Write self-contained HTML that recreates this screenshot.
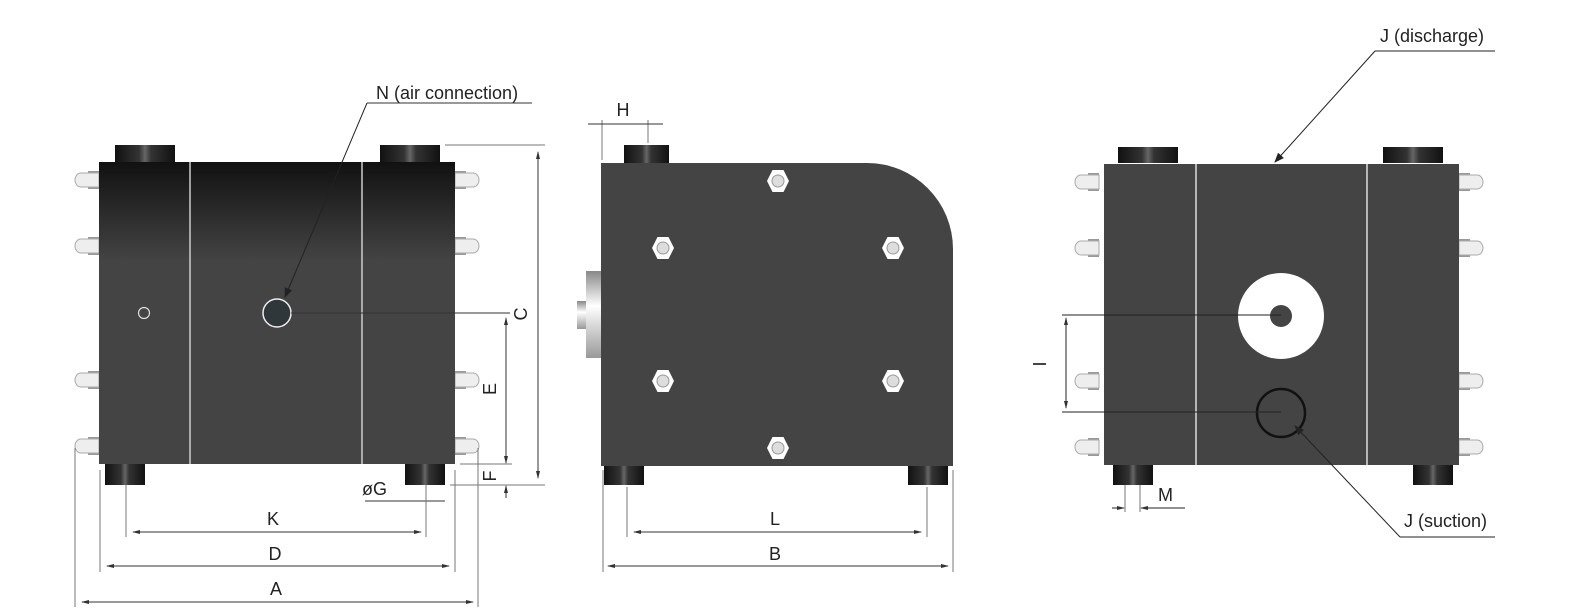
<!DOCTYPE html>
<html><head><style>body{margin:0;background:#fff}svg{display:block}text{font-family:"Liberation Sans",sans-serif;font-size:18px;fill:#222}</style></head><body>
<svg width="1576" height="615" viewBox="0 0 1576 615" xmlns="http://www.w3.org/2000/svg">
<defs>
<linearGradient id="top" x1="0" y1="0" x2="0" y2="1"><stop offset="0" stop-color="#111"/><stop offset="0.33" stop-color="#444"/><stop offset="1" stop-color="#444"/></linearGradient>
<linearGradient id="cyl" x1="0" y1="0" x2="1" y2="0"><stop offset="0" stop-color="#111"/><stop offset="0.4" stop-color="#333"/><stop offset="0.5" stop-color="#666"/><stop offset="0.6" stop-color="#333"/><stop offset="1" stop-color="#111"/></linearGradient>
<linearGradient id="spig" x1="0" y1="0" x2="0" y2="1"><stop offset="0" stop-color="#888"/><stop offset="0.4" stop-color="#fff"/><stop offset="1" stop-color="#999"/></linearGradient>
<g id="boltL"><rect x="13" y="-9" width="11" height="18" fill="#999"/><path d="M24,-7 H6 A6,7 0 0 0 6,7 H24Z" fill="#eee" stroke="#aaa"/></g>
<g id="boltR"><rect x="0" y="-9" width="11" height="18" fill="#999"/><path d="M0,-7 H18 A6,7 0 0 1 18,7 H0Z" fill="#eee" stroke="#aaa"/></g>
<g id="nut"><polygon points="-11,0 -5.5,-11 5.5,-11 11,0 5.5,11 -5.5,11" fill="#fff"/><circle r="6" fill="#ddd" stroke="#999"/></g>
<marker id="ar" markerWidth="10" markerHeight="8" refX="9" refY="4" orient="auto" markerUnits="userSpaceOnUse"><path d="M0,0 L10,4 L0,8Z" fill="#222"/></marker>
<marker id="sa" markerWidth="8" markerHeight="6" refX="7" refY="3" orient="auto-start-reverse" markerUnits="userSpaceOnUse"><path d="M0,1 L8,3 L0,5Z" fill="#333"/></marker>
</defs>
<!-- VIEW 1 -->
<rect x="115" y="145" width="60" height="18" fill="url(#cyl)"/>
<rect x="380" y="145" width="60" height="18" fill="url(#cyl)"/>
<rect x="105" y="464" width="40" height="21" fill="url(#cyl)"/>
<rect x="405" y="464" width="40" height="21" fill="url(#cyl)"/>
<use href="#boltL" x="75" y="180"/><use href="#boltL" x="75" y="246"/><use href="#boltL" x="75" y="380"/><use href="#boltL" x="75" y="446"/>
<use href="#boltR" x="455" y="180"/><use href="#boltR" x="455" y="246"/><use href="#boltR" x="455" y="380"/><use href="#boltR" x="455" y="446"/>
<rect x="99" y="162" width="356" height="302" fill="url(#top)"/>
<line x1="190" y1="162" x2="190" y2="464" stroke="#ccc" stroke-width="1.5"/>
<line x1="362" y1="162" x2="362" y2="464" stroke="#ccc" stroke-width="1.5"/>
<circle cx="144" cy="313" r="5.5" fill="none" stroke="#ddd" stroke-width="1.2"/>
<circle cx="277" cy="313" r="14" fill="#30373a" stroke="#eee" stroke-width="1.5"/>
<g stroke="#333" stroke-width="1" fill="none">
<line x1="291" y1="313" x2="510" y2="313"/>
<line x1="367" y1="103" x2="285" y2="297" stroke="#222" marker-end="url(#ar)"/>
<line x1="367" y1="103" x2="532" y2="103"/>
<line x1="445" y1="145" x2="545" y2="145" stroke="#777"/>
<line x1="450" y1="485" x2="545" y2="485" stroke="#777"/>
<line x1="538" y1="152" x2="538" y2="478" marker-start="url(#sa)" marker-end="url(#sa)"/>
<line x1="460" y1="464" x2="512" y2="464" stroke="#777"/>
<line x1="506" y1="318" x2="506" y2="463" marker-start="url(#sa)" marker-end="url(#sa)"/>
<line x1="506" y1="486" x2="506" y2="498" marker-start="url(#sa)"/>
<line x1="365" y1="501" x2="445" y2="501"/>
<line x1="126" y1="485" x2="126" y2="537" stroke="#777"/><line x1="426" y1="485" x2="426" y2="537" stroke="#777"/>
<line x1="133" y1="532" x2="421" y2="532" marker-start="url(#sa)" marker-end="url(#sa)"/>
<line x1="100" y1="470" x2="100" y2="572" stroke="#777"/><line x1="455" y1="470" x2="455" y2="572" stroke="#777"/>
<line x1="107" y1="566" x2="449" y2="566" marker-start="url(#sa)" marker-end="url(#sa)"/>
<line x1="75" y1="448" x2="75" y2="607" stroke="#777"/><line x1="478" y1="448" x2="478" y2="607" stroke="#777"/>
<line x1="82" y1="602" x2="473" y2="602" marker-start="url(#sa)" marker-end="url(#sa)"/>
</g>
<text x="376" y="99">N (air connection)</text>
<text x="520" y="307" transform="rotate(-90 527 307)" text-anchor="middle">C</text>
<text x="490" y="383" transform="rotate(-90 496 383)" text-anchor="middle">E</text>
<text x="490" y="470" transform="rotate(-90 496 470)" text-anchor="middle">F</text>
<text x="362" y="495">øG</text>
<text x="273" y="525" text-anchor="middle">K</text>
<text x="275" y="560" text-anchor="middle">D</text>
<text x="276" y="595" text-anchor="middle">A</text>
<!-- VIEW 2 -->
<rect x="624" y="145" width="45" height="18" fill="url(#cyl)"/>
<rect x="604" y="464" width="40" height="21" fill="url(#cyl)"/>
<rect x="908" y="464" width="40" height="21" fill="url(#cyl)"/>
<rect x="577" y="301" width="10" height="28" fill="url(#spig)"/>
<rect x="586" y="271" width="15" height="87" fill="url(#spig)"/>
<path d="M601,163 H867 A86,86 0 0 1 953,249 V466 H601Z" fill="#444"/>
<use href="#nut" x="778" y="181"/><use href="#nut" x="663" y="248"/><use href="#nut" x="893" y="248"/>
<use href="#nut" x="663" y="381"/><use href="#nut" x="893" y="381"/><use href="#nut" x="778" y="448"/>
<g stroke="#333" stroke-width="1">
<line x1="602" y1="120" x2="602" y2="160" stroke="#777"/><line x1="648" y1="120" x2="648" y2="143" stroke="#777"/>
<line x1="588" y1="124" x2="663" y2="124"/>
<line x1="603" y1="470" x2="603" y2="572" stroke="#777"/><line x1="953" y1="470" x2="953" y2="572" stroke="#777"/>
<line x1="627" y1="487" x2="627" y2="537" stroke="#777"/><line x1="927" y1="487" x2="927" y2="537" stroke="#777"/>
<line x1="634" y1="532" x2="921" y2="532" marker-start="url(#sa)" marker-end="url(#sa)"/>
<line x1="608" y1="566" x2="948" y2="566" marker-start="url(#sa)" marker-end="url(#sa)"/>
</g>
<text x="623" y="116" text-anchor="middle">H</text>
<text x="775" y="525" text-anchor="middle">L</text>
<text x="775" y="560" text-anchor="middle">B</text>
<!-- VIEW 3 -->
<rect x="1118" y="147" width="60" height="16" fill="url(#cyl)"/>
<rect x="1383" y="147" width="60" height="16" fill="url(#cyl)"/>
<rect x="1113" y="464" width="40" height="21" fill="url(#cyl)"/>
<rect x="1413" y="464" width="40" height="21" fill="url(#cyl)"/>
<use href="#boltL" x="1075" y="182"/><use href="#boltL" x="1075" y="248"/><use href="#boltL" x="1075" y="381"/><use href="#boltL" x="1075" y="447"/>
<use href="#boltR" x="1459" y="182"/><use href="#boltR" x="1459" y="248"/><use href="#boltR" x="1459" y="381"/><use href="#boltR" x="1459" y="447"/>
<rect x="1104" y="164" width="355" height="301" fill="#444"/>
<line x1="1196" y1="164" x2="1196" y2="465" stroke="#ddd" stroke-width="1.5"/>
<line x1="1367" y1="164" x2="1367" y2="465" stroke="#ddd" stroke-width="1.5"/>
<circle cx="1281" cy="316" r="43" fill="#fff"/>
<circle cx="1281" cy="316" r="11" fill="#444"/>
<circle cx="1281" cy="413" r="24" fill="none" stroke="#111" stroke-width="2.5"/>
<g stroke="#222" stroke-width="1">
<line x1="1062" y1="315" x2="1281" y2="315"/>
<line x1="1062" y1="412" x2="1281" y2="412"/>
<line x1="1066" y1="318" x2="1066" y2="408" marker-start="url(#sa)" marker-end="url(#sa)"/>
<line x1="1125" y1="485" x2="1125" y2="512" stroke="#777"/><line x1="1140" y1="485" x2="1140" y2="512" stroke="#777"/>
<line x1="1112" y1="508" x2="1124" y2="508" marker-end="url(#sa)"/>
<line x1="1185" y1="508" x2="1141" y2="508" marker-end="url(#sa)"/>
<line x1="1495" y1="51" x2="1375" y2="51"/>
<line x1="1375" y1="51" x2="1275" y2="162" marker-end="url(#ar)"/>
<line x1="1495" y1="537" x2="1400" y2="537"/>
<line x1="1400" y1="537" x2="1295" y2="426" marker-end="url(#ar)"/>
</g>
<text x="1040" y="358" transform="rotate(-90 1046 358)" text-anchor="middle">I</text>
<text x="1158" y="501">M</text>
<text x="1380" y="42">J (discharge)</text>
<text x="1404" y="527">J (suction)</text>
</svg>
</body></html>
